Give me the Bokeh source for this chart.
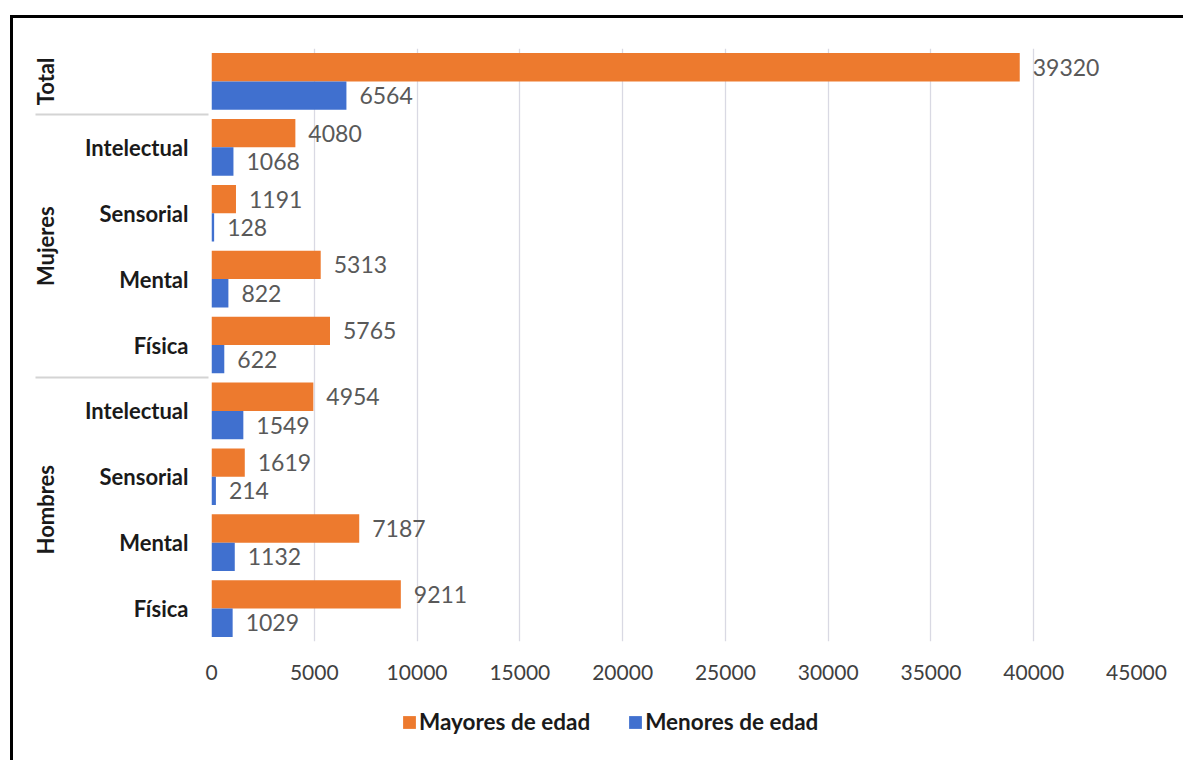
from bokeh.plotting import figure
from bokeh.layouts import column
from bokeh.models import (FactorRange, Range1d, FixedTicker, ColumnDataSource,
                          Legend, LegendItem)
from bokeh.transform import dodge
from bokeh.core.properties import value
from bokeh.embed import file_html
from bokeh.resources import INLINE

# ---- data (bottom to top, as drawn) ----
groups = ["Hombres", "Hombres", "Hombres", "Hombres",
          "Mujeres", "Mujeres", "Mujeres", "Mujeres", "Total"]
types = ["Física", "Mental", "Sensorial", "Intelectual",
         "Física", "Mental", "Sensorial", "Intelectual", ""]
mayores = [9211, 7187, 1619, 4954, 5765, 5313, 1191, 4080, 39320]
menores = [1029, 1132, 214, 1549, 622, 822, 128, 1068, 6564]
series_names = ["Mayores de edad", "Menores de edad"]
x_ticks = [0, 5000, 10000, 15000, 20000, 25000, 30000, 35000, 40000, 45000]

COL_MAY = "#ED7A2E"
COL_MEN = "#4070CF"
FONT = "Lato"

factors = list(zip(groups, types))
src = ColumnDataSource(dict(
    f=factors,
    may=mayores,
    men=menores,
    may_lbl=[str(v) for v in mayores],
    men_lbl=[str(v) for v in menores],
))

y_range = FactorRange(*factors, group_padding=0, subgroup_padding=0,
                      factor_padding=0, range_padding=0)

W = 1170
p = figure(width=W, height=680, x_range=Range1d(0, 45000), y_range=y_range,
           output_backend="svg", toolbar_location=None,
           min_border_left=198, min_border_right=47,
           min_border_top=30, min_border_bottom=57)
p.outline_line_color = None
p.background_fill_color = "white"
p.border_fill_color = "white"

bar_h = 0.43
off = 0.215
r1 = p.hbar(y=dodge("f", off, range=p.y_range), right="may", left=0, height=bar_h,
            source=src, fill_color=COL_MAY, line_color=None)
r2 = p.hbar(y=dodge("f", -off, range=p.y_range), right="men", left=0, height=bar_h,
            source=src, fill_color=COL_MEN, line_color=None)

p.text(x="may", y=dodge("f", off, range=p.y_range), text="may_lbl", source=src,
       x_offset=13, text_baseline="middle", text_align="left",
       text_font=value(FONT), text_font_size="23px", text_color="#595959")
p.text(x="men", y=dodge("f", -off, range=p.y_range), text="men_lbl", source=src,
       x_offset=13, text_baseline="middle", text_align="left",
       text_font=value(FONT), text_font_size="23px", text_color="#595959")

# grid
p.xgrid.ticker = FixedTicker(ticks=x_ticks)
p.xgrid.grid_line_color = "#d9d9e3"
p.xgrid.grid_line_width = 1.3
p.ygrid.grid_line_color = None

# x axis
p.xaxis.ticker = FixedTicker(ticks=x_ticks)
p.xaxis.axis_line_color = None
p.xaxis.major_tick_line_color = None
p.xaxis.minor_tick_line_color = None
p.xaxis.major_tick_out = 0
p.xaxis.minor_tick_out = 0
p.xaxis.major_label_text_font = FONT
p.xaxis.major_label_text_font_size = "21px"
p.xaxis.major_label_text_color = "#404040"
p.xaxis.major_label_standoff = 23

# y axis (hierarchical)
p.yaxis.axis_line_color = None
p.yaxis.major_tick_line_color = None
p.yaxis.minor_tick_line_color = None
p.yaxis.major_tick_out = 0
p.yaxis.minor_tick_out = 0
p.yaxis.major_label_standoff = 23
p.yaxis.major_label_text_font = FONT
p.yaxis.major_label_text_font_style = "bold"
p.yaxis.major_label_text_font_size = "22px"
p.yaxis.major_label_text_color = "#1a1a1a"
p.yaxis.group_text_font = FONT
p.yaxis.group_text_font_style = "bold"
p.yaxis.group_text_font_size = "22px"
p.yaxis.group_text_color = "#1a1a1a"
p.yaxis.separator_line_color = "#d4d4d4"
p.yaxis.separator_line_width = 2

# legend strip below the chart (its frame is aligned with the chart's frame)
leg = figure(width=W, height=62, x_range=Range1d(0, 1), y_range=Range1d(0, 1),
             output_backend="svg", toolbar_location=None,
             min_border_left=0, min_border_right=0,
             min_border_top=0, min_border_bottom=0)
leg.axis.visible = False
leg.grid.visible = False
leg.outline_line_color = None
leg.background_fill_color = "white"
leg.border_fill_color = "white"
# legend proxies, kept outside the strip's visible range
g1 = leg.hbar(y=[-5], left=[0], right=[1], height=0.5, fill_color=COL_MAY, line_color=None)
g2 = leg.hbar(y=[-5], left=[0], right=[1], height=0.5, fill_color=COL_MEN, line_color=None)
legend = Legend(items=[LegendItem(label=series_names[0], renderers=[g1]),
                       LegendItem(label=series_names[1], renderers=[g2])],
                orientation="horizontal", location=(190, 25),
                glyph_width=16, glyph_height=16, label_standoff=2, spacing=37,
                padding=0, margin=0, border_line_color=None,
                background_fill_alpha=0,
                label_text_font=FONT, label_text_font_style="bold",
                label_text_font_size="22.5px", label_text_color="#1a1a1a")
leg.add_layout(legend)

layout = column(p, leg, spacing=0)
# black frame of the original chart image (left and top edges)
layout.styles = {"margin-left": "10px", "margin-top": "15px",
                 "border-left": "3px solid black", "border-top": "3px solid black"}

open("out.html", "w").write(file_html(layout, INLINE))
